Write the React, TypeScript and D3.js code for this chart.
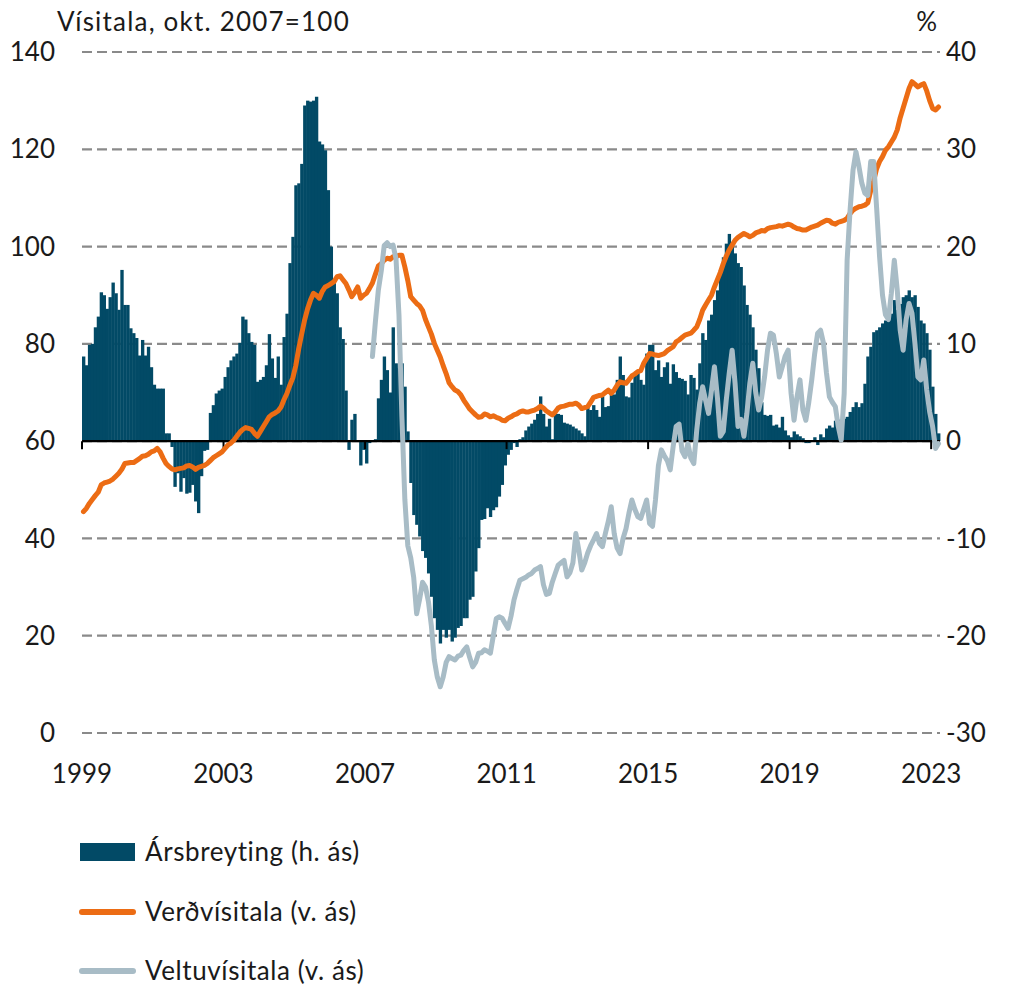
import React from 'react';
import * as d3 from 'd3';

// ---- Data (monthly, Jan 1999 – Mar 2023) ----
const firstMonth = new Date(1999, 0, 1);
const veltuFirstMonth = new Date(2007, 2, 1);
const yearTicks = [1999, 2003, 2007, 2011, 2015, 2019, 2023];
const leftTicks = [0, 20, 40, 60, 80, 100, 120, 140];
const rightTicks = [-30, -20, -10, 0, 10, 20, 30, 40];

const titleLeft = 'Vísitala, okt. 2007=100';
const titleRight = '%';
const legendLabels = ['Ársbreyting (h. ás)', 'Verðvísitala (v. ás)', 'Veltuvísitala (v. ás)'];

// Ársbreyting, % (right axis)
const arsbreyting: number[] = [
  // 1999
  8.7, 7.8, 9.9, 10.0, 11.7, 12.8, 15.3, 15.0, 13.6, 14.8, 16.3, 15.2,
  // 2000
  13.5, 17.6, 14.0, 14.0, 11.6, 11.1, 10.6, 8.8, 10.4, 8.8, 9.7, 7.6,
  // 2001
  5.8, 5.4, 5.4, 5.4, 0.8, 0.8, -0.6, -4.7, -3.3, -5.2, -3.8, -5.4,
  // 2002
  -5.3, -4.5, -6.2, -7.4, -3.6, -1.0, -0.9, 2.9, 3.7, 4.9, 5.2, 5.4,
  // 2003
  6.6, 7.6, 8.3, 8.7, 9.0, 10.1, 12.8, 12.5, 11.1, 10.2, 9.9, 6.1,
  // 2004
  6.3, 6.6, 7.8, 11.0, 8.5, 6.5, 8.7, 5.8, 10.7, 13.1, 18.3, 21.0,
  // 2005
  26.3, 26.5, 28.5, 34.5, 35.0, 34.9, 35.0, 35.4, 30.8, 30.5, 29.9, 25.8,
  // 2006
  20.0, 16.5, 15.2, 11.7, 10.5, 5.2, -0.9, 2.2, 2.8, 0.1, -2.5, -0.9,
  // 2007
  -2.3, -0.2, 0.1, 0.2, 4.4, 6.3, 8.7, 7.3, 5.0, 11.7, 8.0, 7.5,
  // 2008
  8.0, 5.6, 1.0, -4.3, -7.6, -8.6, -9.8, -11.3, -12.0, -13.6, -16.0, -18.2,
  // 2009
  -19.4, -20.8, -19.4, -20.2, -19.4, -20.6, -20.2, -19.2, -19.0, -18.2, -18.2, -16.3,
  // 2010
  -16.0, -13.4, -11.0, -8.1, -8.0, -6.9, -7.8, -7.1, -6.8, -5.7, -4.5, -2.5,
  // 2011
  -1.4, -0.9, -0.2, -0.6, 0.2, 0.4, 1.1, 1.5, 1.8, 2.2, 2.8, 4.6,
  // 2012
  2.8, 1.5, 2.3, 0.2, 2.8, 2.8, 2.7, 1.9, 1.8, 1.7, 1.5, 1.3,
  // 2013
  1.1, 0.8, 0.5, 3.5, 3.2, 3.7, 3.2, 2.5, 4.6, 3.5, 3.6, 4.8,
  // 2014
  4.8, 6.3, 8.7, 6.8, 4.6, 4.5, 6.0, 7.0, 7.0, 6.3, 5.8, 9.0,
  // 2015
  9.9, 9.9, 7.3, 8.3, 6.6, 7.6, 8.1, 5.9, 7.9, 7.1, 6.5, 6.4,
  // 2016
  6.2, 4.8, 6.8, 6.5, 5.3, 8.0, 11.1, 10.4, 12.4, 13.0, 14.5, 15.5,
  // 2017
  17.6, 18.9, 20.3, 21.3, 20.0, 19.3, 18.3, 17.9, 16.0, 14.0, 13.0, 11.7,
  // 2018
  9.4, 7.5, 4.0, 2.7, 2.6, 2.7, 1.6, 1.7, 1.4, 2.5, 1.1, 0.6,
  // 2019
  0.4, 1.0, 0.7, 0.5, 0.3, -0.2, -0.2, 0.1, 0.4, -0.4, 0.7, 0.4,
  // 2020
  1.3, 1.6, 1.4, 2.1, 2.2, 1.8, 2.3, 2.5, 3.0, 3.5, 4.0, 3.5,
  // 2021
  3.9, 5.9, 8.7, 9.7, 11.2, 11.4, 11.7, 12.1, 12.4, 12.4, 13.1, 14.5,
  // 2022
  13.5, 14.1, 14.8, 15.0, 15.5, 14.8, 15.0, 13.8, 12.4, 12.1, 11.1, 9.4,
  // 2023
  5.6, 2.8, 0.8,
];

// Verðvísitala (left axis)
const verdvisitala: number[] = [
  // 1999
  45.5, 46.2, 47.2, 48.0, 48.8, 49.5, 51.0, 51.4, 51.6, 51.8, 52.2, 52.8,
  // 2000
  53.4, 54.2, 55.4, 55.5, 55.6, 55.6, 56.0, 56.4, 56.9, 57.0, 57.3, 57.8,
  // 2001
  58.0, 58.5, 57.8, 56.5, 55.4, 54.8, 54.3, 54.1, 54.3, 54.4, 54.5, 54.9,
  // 2002
  55.0, 54.7, 54.2, 54.6, 54.8, 55.0, 55.4, 56.0, 56.6, 57.0, 57.4, 57.8,
  // 2003
  58.5, 59.2, 59.6, 60.2, 61.0, 61.8, 62.4, 62.8, 62.6, 62.4, 61.6, 61.0,
  // 2004
  62.0, 63.0, 64.0, 65.0, 65.5, 65.8, 66.2, 67.0, 68.5, 69.8, 71.5, 73.0,
  // 2005
  75.5, 79.0, 82.0, 84.9, 87.2, 89.0, 90.4, 90.0, 89.4, 90.8, 91.7, 92.0,
  // 2006
  92.4, 92.8, 93.8, 94.0, 93.2, 92.4, 91.1, 89.7, 90.6, 91.7, 89.4, 90.0,
  // 2007
  90.4, 91.4, 92.5, 94.3, 96.0, 96.5, 97.2, 97.6, 97.4, 97.9, 98.0, 98.2,
  // 2008
  98.2, 95.8, 93.0, 89.7, 89.0, 88.3, 87.8, 86.9, 85.0, 83.5, 82.0, 80.1,
  // 2009
  78.7, 77.3, 75.5, 73.9, 72.0, 71.2, 70.5, 70.2, 69.5, 68.4, 67.5, 66.6,
  // 2010
  66.0, 65.4, 64.9, 65.0, 65.6, 65.4, 65.0, 65.2, 64.9, 64.7, 64.3, 64.2,
  // 2011
  64.7, 65.0, 65.4, 65.6, 66.0, 66.2, 66.0, 66.0, 66.2, 66.4, 66.7, 67.2,
  // 2012
  66.8, 66.2, 65.8, 65.4, 66.0, 66.8, 67.1, 67.2, 67.4, 67.6, 67.6, 67.8,
  // 2013
  67.4, 66.7, 66.9, 67.1, 68.0, 69.0, 69.2, 69.4, 69.5, 70.0, 70.5, 69.8,
  // 2014
  70.5, 71.5, 72.2, 72.0, 71.9, 72.6, 73.4, 73.8, 74.3, 74.5, 76.0, 77.0,
  // 2015
  78.0, 77.9, 77.7, 77.6, 77.8, 78.0, 78.6, 79.0, 79.4, 80.4, 80.8, 81.3,
  // 2016
  81.8, 82.0, 82.2, 82.8, 83.5, 85.0, 86.9, 88.0, 89.0, 90.0, 91.7, 93.2,
  // 2017
  94.7, 96.5, 98.0, 99.3, 100.3, 101.3, 101.9, 102.3, 102.7, 102.4, 102.0, 102.3,
  // 2018
  102.8, 103.0, 103.3, 103.2, 103.7, 103.9, 104.0, 104.1, 104.3, 104.2, 104.4, 104.6,
  // 2019
  104.4, 104.0, 103.7, 103.6, 103.4, 103.4, 103.7, 104.0, 104.2, 104.4, 104.8, 105.1,
  // 2020
  105.4, 105.3, 104.8, 104.6, 105.0, 105.2, 105.4, 105.8, 106.8, 107.5, 107.9, 108.2,
  // 2021
  108.3, 108.5, 109.0, 111.5, 113.5, 116.0, 117.5, 118.5, 119.8, 120.5, 121.5, 122.5,
  // 2022
  124.0, 126.5, 128.5, 130.5, 132.5, 133.9, 133.4, 132.8, 133.2, 133.5, 132.0, 130.0,
  // 2023
  128.4, 128.1, 128.7,
];

// Veltuvísitala (left axis), starts Mar 2007
const veltuvisitala: number[] = [
  // 2007 (Mar–Dec)
  77.4, 84.5, 91.0, 95.0, 100.2, 100.8, 100.0, 100.3, 97.5, 86.0,
  // 2008
  65.0, 48.0, 38.5, 36.0, 32.0, 24.5, 27.5, 31.0, 30.0, 27.0, 22.0, 15.0,
  // 2009
  11.5, 9.5, 11.5, 14.5, 15.7, 15.3, 15.0, 15.8, 16.0, 17.0, 17.7, 15.5,
  // 2010
  13.6, 14.5, 16.4, 16.5, 17.1, 16.8, 16.4, 20.0, 23.5, 23.9, 23.6, 22.5,
  // 2011
  21.5, 24.0, 27.3, 29.5, 31.4, 31.7, 32.0, 32.5, 32.8, 33.5, 33.8, 34.2,
  // 2012
  30.5, 28.5, 28.7, 31.0, 32.8, 34.5, 35.0, 35.5, 32.1, 33.0, 35.0, 41.0,
  // 2013
  37.6, 33.5, 35.0, 37.0, 38.5, 39.7, 41.0, 39.0, 38.3, 41.0, 43.5, 46.5,
  // 2014
  41.0, 38.0, 36.9, 40.0, 42.0, 45.2, 47.9, 46.0, 44.5, 44.1, 46.0, 47.9,
  // 2015
  43.1, 42.5, 47.9, 55.0, 58.2, 57.0, 56.0, 54.1, 58.9, 63.0, 63.5, 58.0,
  // 2016
  56.8, 59.5, 56.5, 55.4, 62.3, 67.8, 71.2, 68.4, 65.7, 70.5, 75.3, 69.0,
  // 2017
  61.0, 62.0, 68.4, 73.9, 78.7, 71.9, 63.0, 64.5, 61.0, 65.7, 71.9, 76.0,
  // 2018
  70.0, 66.4, 69.0, 73.2, 78.7, 82.2, 81.8, 78.0, 73.2, 75.3, 77.5, 78.7,
  // 2019
  69.8, 64.3, 69.1, 72.6, 66.4, 64.3, 68.0, 72.6, 78.0, 82.2, 82.8, 80.1,
  // 2020
  74.0, 69.1, 68.0, 67.1, 63.0, 60.2, 69.8, 97.2, 107.5, 115.7, 119.5, 116.5,
  // 2021
  113.0, 111.0, 110.5, 117.5, 117.5, 108.0, 98.0, 90.0, 86.0, 85.0, 90.4, 97.2,
  // 2022
  91.1, 82.8, 78.7, 84.9, 88.3, 86.3, 80.1, 73.2, 72.6, 76.7, 70.5, 66.0,
  // 2023
  63.0, 58.5, 59.5,
];

const FONT = "Lato, 'Open Sans', sans-serif";
const FS = 26;
const BAR_COLOR = '#024a66';
const ORANGE = '#ec6c14';
const GREY = '#a8bcc6';
const GRID = '#8a8a8a';
const TEXT = '#1a1a1a';

export default function App() {
  const W = 1016;
  const H = 990;
  const months = d3.timeMonth.range(firstMonth, d3.timeMonth.offset(firstMonth, arsbreyting.length));
  const idx = months.map((_, i) => i);
  const x = d3.scaleBand<number>().domain(idx).range([82, 940]).padding(0);
  const bw = x.bandwidth();
  const cx = (i: number) => (x(i) as number) + bw / 2;
  const yL = d3.scaleLinear().domain([0, 140]).range([733, 52]);
  const yR = d3.scaleLinear().domain([-30, 40]).range([733, 52]);
  const veltuOffset = d3.timeMonth.count(firstMonth, veltuFirstMonth);

  const lineL = d3.line<[number, number]>().x((d) => cx(d[0])).y((d) => yL(d[1]));
  const verdPath = lineL(verdvisitala.map((v, i) => [i, v] as [number, number])) || '';
  const veltuPath = lineL(veltuvisitala.map((v, i) => [i + veltuOffset, v] as [number, number])) || '';

  const tickIdx = yearTicks.map((yr) => d3.timeMonth.count(firstMonth, new Date(yr, 0, 1)));
  const x0 = 82;
  const x1 = 940;
  const zeroY = yR(0);

  return (
    <svg width={W} height={H} style={{ position: 'absolute', left: 0, top: 0, background: '#fff' }} fontFamily={FONT}>
      <rect x={0} y={0} width={W} height={H} fill="#fff" />
      {/* gridlines */}
      {leftTicks.map((t) => (
        <line key={'g' + t} x1={x0} x2={x1} y1={yL(t)} y2={yL(t)} stroke={GRID} strokeWidth={2.2} strokeDasharray="10,5" />
      ))}
      {/* bars */}
      {arsbreyting.map((v, i) => {
        const y0 = yR(0);
        const y1 = yR(v);
        return (
          <rect key={'b' + i} x={x(i) as number} width={bw + 0.4} y={Math.min(y0, y1)} height={Math.abs(y1 - y0)} fill={BAR_COLOR} />
        );
      })}
      {/* zero axis */}
      <line x1={x0} x2={x1} y1={zeroY} y2={zeroY} stroke="#000" strokeWidth={2.2} />
      {tickIdx.map((ti, k) => (
        <line key={'t' + k} x1={x(ti) as number} x2={x(ti) as number} y1={zeroY} y2={zeroY + 8} stroke="#000" strokeWidth={2} />
      ))}
      {/* lines */}
      <path d={verdPath} fill="none" stroke={ORANGE} strokeWidth={5} strokeLinejoin="round" strokeLinecap="round" />
      <path d={veltuPath} fill="none" stroke={GREY} strokeWidth={5} strokeLinejoin="round" strokeLinecap="round" />
      {/* left axis labels */}
      {leftTicks.map((t) => (
        <text key={'l' + t} x={55} y={yL(t)} dy="0.35em" textAnchor="end" fontSize={FS} fill={TEXT}>{t}</text>
      ))}
      {/* right axis labels */}
      {rightTicks.map((t) => (
        <text key={'r' + t} x={946} y={yR(t)} dy="0.35em" textAnchor="start" fontSize={FS} fill={TEXT}>{t}</text>
      ))}
      {/* x labels */}
      {yearTicks.map((yr, k) => (
        <text key={'x' + yr} x={x(tickIdx[k]) as number} y={783} textAnchor="middle" fontSize={FS} fill={TEXT}>{yr}</text>
      ))}
      {/* titles */}
      <text x={57} y={31} fontSize={FS} letterSpacing={1.2} fill={TEXT}>{titleLeft}</text>
      <text x={937} y={31} textAnchor="end" fontSize={FS} fill={TEXT}>{titleRight}</text>
      {/* legend */}
      <rect x={80} y={843} width={55} height={18} fill={BAR_COLOR} />
      <text x={145} y={852} dy="0.35em" fontSize={FS} letterSpacing={0.6} fill={TEXT}>{legendLabels[0]}</text>
      <line x1={82} x2={133} y1={912} y2={912} stroke={ORANGE} strokeWidth={6} strokeLinecap="round" />
      <text x={145} y={912} dy="0.35em" fontSize={FS} letterSpacing={0.6} fill={TEXT}>{legendLabels[1]}</text>
      <line x1={82} x2={133} y1={971} y2={971} stroke={GREY} strokeWidth={6} strokeLinecap="round" />
      <text x={145} y={971} dy="0.35em" fontSize={FS} letterSpacing={0.6} fill={TEXT}>{legendLabels[2]}</text>
    </svg>
  );
}
